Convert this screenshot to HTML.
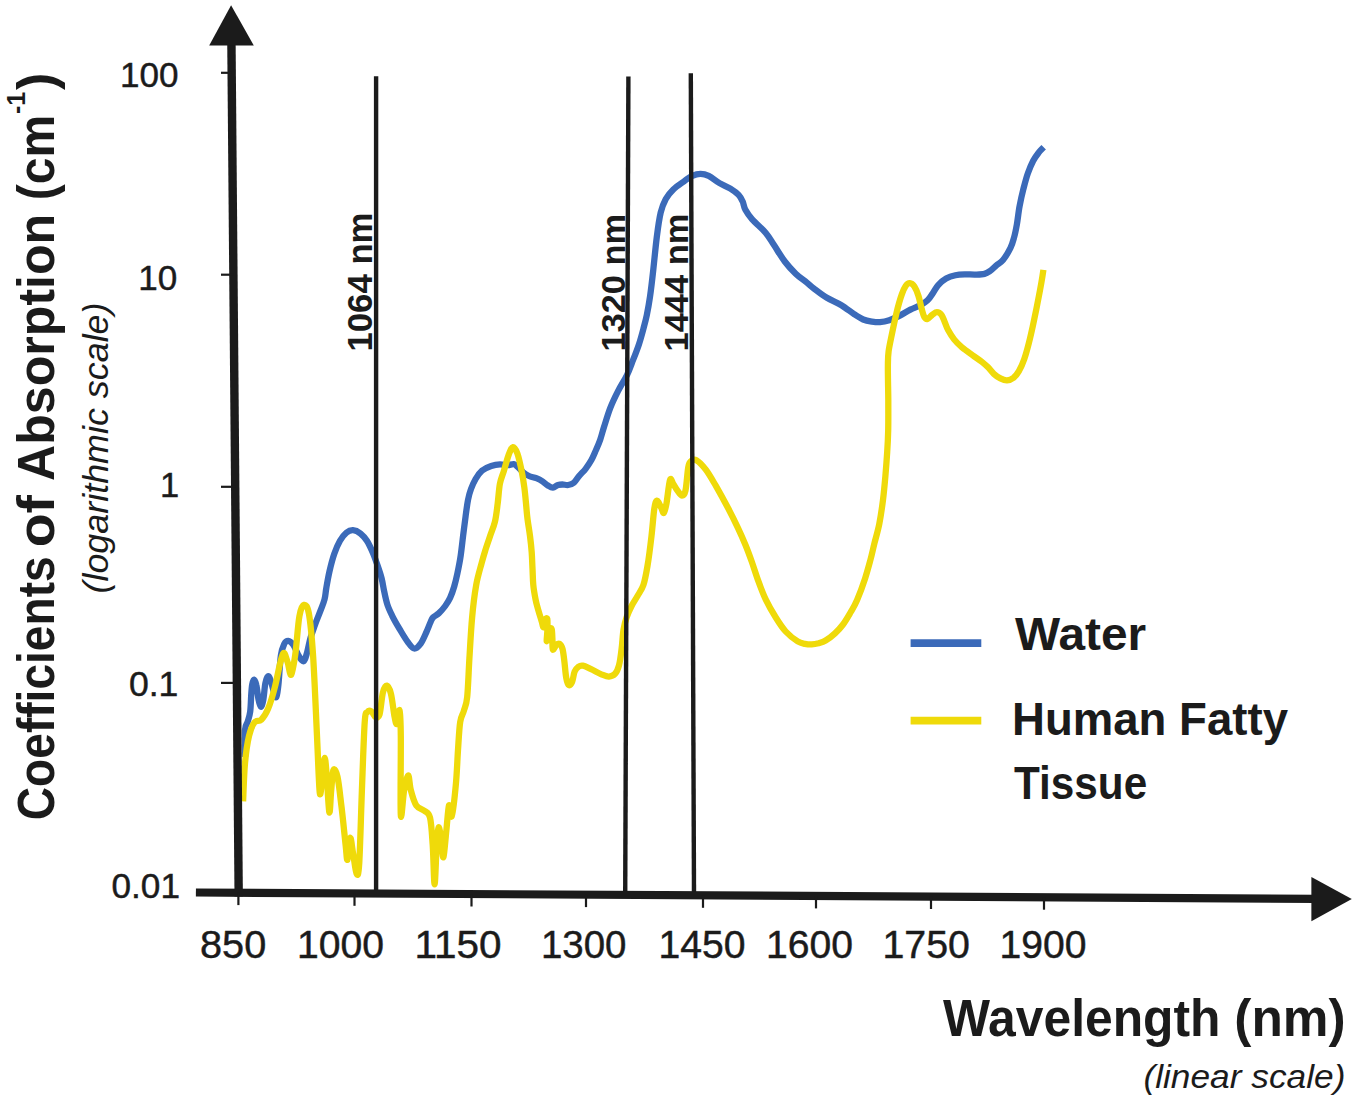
<!DOCTYPE html>
<html lang="en"><head><meta charset="utf-8"><title>Coefficients of Absorption vs Wavelength</title>
<style>html,body{margin:0;padding:0;background:#fff}body{width:1361px;height:1103px;overflow:hidden}svg{display:block}</style>
</head><body>
<svg width="1361" height="1103" viewBox="0 0 1361 1103" font-family="'Liberation Sans', sans-serif" fill="#1b1b1b">
<rect width="1361" height="1103" fill="#fff"/>
<path d="M245.1 757.0 C245.1 752.4 244.6 735.4 245.1 729.5 C245.6 723.6 247.0 724.4 247.8 721.4 C248.7 718.4 249.6 716.0 250.2 711.6 C250.8 707.2 250.9 699.8 251.2 695.3 C251.5 690.8 251.7 687.1 252.2 684.5 C252.7 681.9 253.3 679.5 254.0 679.6 C254.7 679.7 255.6 681.7 256.3 685.0 C257.1 688.3 257.8 695.9 258.5 699.5 C259.2 703.1 260.0 706.6 260.8 706.8 C261.6 707.0 262.4 704.5 263.2 700.5 C264.0 696.5 264.6 687.0 265.4 683.0 C266.2 679.0 267.2 676.3 268.2 676.2 C269.2 676.1 270.2 679.4 271.2 682.2 C272.2 685.0 273.2 690.5 274.1 693.0 C275.0 695.5 275.7 698.5 276.4 697.0 C277.1 695.5 277.8 690.9 278.5 684.0 C279.2 677.1 279.9 662.2 280.9 655.5 C281.8 648.8 283.0 646.5 284.2 644.0 C285.4 641.5 286.8 640.7 288.3 640.8 C289.8 640.9 291.4 642.2 293.2 644.7 C295.0 647.2 297.1 653.4 298.9 656.1 C300.7 658.9 302.4 661.9 303.8 661.2 C305.2 660.5 306.1 655.9 307.2 652.0 C308.3 648.1 309.2 642.4 310.5 638.0 C311.8 633.6 313.1 630.1 314.7 625.6 C316.3 621.1 318.8 615.2 320.4 610.9 C322.0 606.5 323.5 603.3 324.5 599.5 C325.5 595.7 325.5 592.7 326.3 588.1 C327.1 583.5 328.1 577.5 329.4 571.8 C330.7 566.1 332.5 559.0 334.3 553.8 C336.1 548.6 338.0 544.3 340.0 540.8 C342.0 537.3 344.3 534.4 346.5 532.6 C348.7 530.8 350.7 530.1 353.0 530.2 C355.3 530.3 358.1 531.6 360.4 533.4 C362.7 535.2 364.9 537.7 366.9 540.8 C368.9 543.9 370.8 548.1 372.6 552.2 C374.4 556.3 376.0 560.9 377.5 565.3 C379.0 569.6 380.5 573.9 381.6 578.3 C382.7 582.6 383.2 587.0 384.2 591.4 C385.1 595.8 386.0 600.3 387.3 604.4 C388.6 608.5 390.2 611.7 392.2 615.8 C394.2 619.9 396.9 624.5 399.5 628.9 C402.1 633.2 405.2 638.6 407.7 641.9 C410.1 645.2 412.0 648.2 414.2 648.5 C416.4 648.8 418.7 646.3 420.7 643.6 C422.7 640.9 424.8 635.7 426.4 632.1 C428.0 628.5 429.4 624.7 430.5 622.3 C431.6 619.9 431.6 619.0 433.0 617.5 C434.4 616.0 436.7 615.3 438.7 613.4 C440.7 611.5 443.3 608.6 445.2 606.0 C447.1 603.4 448.6 601.1 450.1 597.9 C451.6 594.6 453.0 590.6 454.2 586.5 C455.4 582.4 456.3 578.6 457.4 573.4 C458.5 568.2 459.8 561.8 460.7 555.5 C461.6 549.2 462.3 542.4 463.1 535.9 C463.9 529.4 464.8 522.3 465.6 516.3 C466.4 510.3 467.1 504.6 468.0 500.0 C468.9 495.4 469.7 492.5 471.0 489.0 C472.3 485.5 473.8 482.1 475.6 479.0 C477.4 475.9 479.4 472.8 482.0 470.6 C484.6 468.4 488.2 467.0 491.2 466.0 C494.2 465.0 497.3 464.5 500.0 464.4 C502.7 464.3 505.0 465.2 507.3 465.2 C509.6 465.1 512.1 463.9 513.8 464.1 C515.5 464.3 515.8 465.2 517.4 466.6 C519.0 468.0 521.3 470.8 523.2 472.4 C525.1 474.0 526.8 475.0 529.0 476.0 C531.2 477.0 534.1 477.3 536.3 478.2 C538.5 479.1 540.2 479.9 542.1 481.1 C544.0 482.3 546.1 484.4 547.9 485.5 C549.7 486.6 551.2 487.7 552.9 487.6 C554.6 487.5 556.4 485.5 558.0 485.0 C559.6 484.5 560.7 484.5 562.4 484.5 C564.1 484.5 566.3 485.3 568.2 485.0 C570.1 484.7 572.2 484.1 574.0 482.6 C575.8 481.1 577.2 478.3 579.1 476.0 C581.0 473.7 583.6 471.4 585.6 468.8 C587.6 466.2 589.7 463.2 591.4 460.1 C593.1 457.0 594.5 453.4 596.0 450.0 C597.5 446.6 598.9 443.5 600.2 439.7 C601.5 435.9 602.3 432.3 604.0 427.0 C605.7 421.7 608.0 413.8 610.3 407.9 C612.6 402.0 615.1 396.9 617.9 391.4 C620.7 385.9 624.5 380.2 627.1 374.9 C629.7 369.6 631.2 364.8 633.2 359.7 C635.2 354.6 637.2 349.5 638.9 344.4 C640.6 339.3 642.0 334.1 643.3 329.2 C644.6 324.3 645.7 320.6 646.8 315.2 C647.9 309.8 648.9 304.4 650.0 296.8 C651.1 289.2 652.2 279.6 653.3 269.6 C654.4 259.6 655.6 246.5 656.8 237.0 C658.0 227.5 659.2 218.8 660.7 212.5 C662.2 206.2 663.7 202.8 665.8 198.9 C667.9 195.1 670.2 192.4 673.3 189.4 C676.4 186.4 681.0 183.5 684.2 181.2 C687.4 178.9 689.6 177.0 692.3 175.8 C695.0 174.6 697.8 173.9 700.5 173.9 C703.2 173.9 705.5 174.3 708.7 175.8 C711.9 177.3 715.9 181.0 719.5 183.1 C723.1 185.2 727.2 186.6 730.4 188.6 C733.6 190.6 736.5 192.6 738.6 194.8 C740.7 197.0 741.6 199.1 742.7 201.6 C743.8 204.1 743.8 206.9 745.4 209.8 C747.0 212.8 748.8 215.5 752.2 219.3 C755.6 223.2 762.2 228.6 765.8 232.9 C769.4 237.2 770.8 240.3 774.0 245.1 C777.2 249.9 781.2 256.7 784.8 261.5 C788.4 266.3 792.1 270.2 795.7 273.7 C799.3 277.2 803.5 279.9 806.6 282.4 C809.7 284.9 810.8 286.1 814.2 288.7 C817.6 291.3 822.4 295.1 826.9 297.8 C831.4 300.6 836.9 302.5 841.4 305.2 C845.9 307.9 850.5 311.7 854.1 314.1 C857.7 316.5 860.2 318.2 863.2 319.5 C866.2 320.8 869.2 321.2 872.0 321.6 C874.8 322.0 877.1 322.3 880.0 322.1 C882.9 321.9 886.0 321.3 889.3 320.2 C892.6 319.1 896.3 317.4 899.8 315.6 C903.3 313.8 907.1 311.3 910.4 309.6 C913.7 307.9 916.8 307.2 919.7 305.6 C922.6 304.1 925.4 302.4 927.6 300.3 C929.8 298.2 931.1 295.6 932.9 293.1 C934.7 290.6 936.0 287.5 938.2 285.1 C940.4 282.7 943.2 280.1 946.1 278.5 C949.0 276.9 952.3 275.9 955.4 275.2 C958.5 274.5 961.4 274.4 964.7 274.3 C968.0 274.2 971.9 274.7 975.2 274.6 C978.5 274.5 982.1 274.5 984.5 273.9 C986.9 273.3 987.8 272.6 989.8 271.2 C991.8 269.8 994.2 267.2 996.4 265.3 C998.6 263.4 1000.6 262.9 1003.0 260.0 C1005.4 257.1 1008.6 251.7 1010.5 247.9 C1012.4 244.1 1013.1 240.9 1014.2 237.0 C1015.3 233.1 1016.0 229.4 1016.9 224.3 C1017.8 219.2 1018.5 211.9 1019.6 206.2 C1020.7 200.4 1021.8 195.2 1023.2 189.8 C1024.6 184.4 1026.1 178.3 1027.8 173.5 C1029.5 168.7 1031.4 164.3 1033.2 160.8 C1035.0 157.3 1036.8 155.0 1038.6 152.7 C1040.3 150.4 1042.8 148.1 1043.7 147.2" fill="none" stroke="#3b6ab9" stroke-width="6.3" stroke-linejoin="round" stroke-linecap="butt"/>
<path d="M243.1 801.3 C243.4 794.9 244.0 774.1 245.0 763.2 C246.0 752.3 247.4 742.8 249.0 736.0 C250.6 729.2 252.4 725.1 254.5 722.4 C256.6 719.7 259.0 722.0 261.3 719.7 C263.6 717.4 265.8 714.2 268.1 708.8 C270.4 703.3 272.9 694.7 274.9 687.0 C276.9 679.3 278.8 668.3 280.3 662.6 C281.8 656.9 282.7 653.0 283.9 653.0 C285.1 653.0 286.5 659.0 287.7 662.6 C288.9 666.2 289.9 676.2 291.2 674.8 C292.5 673.4 293.9 664.1 295.3 654.4 C296.7 644.6 297.9 624.5 299.4 616.3 C300.8 608.0 302.4 605.3 304.0 604.9 C305.6 604.5 307.4 605.4 308.9 613.6 C310.4 621.9 311.6 634.0 313.0 654.4 C314.4 674.8 315.9 712.9 317.0 736.0 C318.1 759.1 318.9 786.8 319.8 793.1 C320.7 799.5 321.7 780.0 322.5 774.1 C323.3 768.2 324.0 757.8 324.7 757.8 C325.4 757.8 325.8 765.0 326.6 774.1 C327.4 783.2 328.5 809.5 329.3 812.2 C330.1 814.9 330.5 797.4 331.2 790.4 C331.9 783.4 332.3 772.3 333.4 770.0 C334.4 767.7 336.1 770.7 337.5 776.8 C338.9 782.9 340.1 795.4 341.5 806.7 C342.9 818.0 344.6 835.9 345.6 844.8 C346.6 853.6 346.7 860.9 347.5 859.8 C348.3 858.7 349.3 839.1 350.2 838.0 C351.1 836.9 351.9 847.1 353.0 853.0 C354.1 858.9 355.5 871.6 356.5 873.4 C357.5 875.2 358.3 877.7 359.2 863.9 C360.1 850.1 361.0 814.0 361.9 790.4 C362.8 766.8 363.8 735.4 364.7 722.4 C365.6 709.4 366.3 713.9 367.4 712.1 C368.5 710.3 370.1 710.7 371.5 711.5 C372.9 712.3 374.1 716.5 375.5 717.0 C376.9 717.5 378.4 718.4 379.6 714.3 C380.8 710.2 381.7 697.3 382.9 692.5 C384.1 687.7 385.6 685.5 387.0 685.7 C388.4 685.9 389.7 688.7 391.0 693.9 C392.3 699.1 393.6 712.0 394.6 717.0 C395.6 722.0 396.0 724.9 396.8 723.8 C397.6 722.7 398.8 708.2 399.5 710.2 C400.2 712.2 400.6 718.5 400.8 736.0 C401.0 753.5 400.2 805.8 400.8 814.9 C401.4 824.0 402.9 797.0 404.1 790.4 C405.3 783.8 407.1 775.5 408.2 775.5 C409.3 775.5 409.5 785.4 410.9 790.4 C412.2 795.4 414.0 802.0 416.3 805.4 C418.6 808.8 422.2 808.8 424.5 810.8 C426.8 812.8 428.6 811.9 430.0 817.6 C431.4 823.3 431.9 833.7 432.7 844.8 C433.5 855.9 433.9 884.3 434.6 884.3 C435.3 884.3 436.0 854.3 436.7 844.8 C437.4 835.3 438.1 827.1 438.9 827.1 C439.7 827.1 440.8 839.8 441.6 844.8 C442.4 849.8 442.7 859.3 443.5 857.0 C444.3 854.7 445.4 839.8 446.3 831.2 C447.2 822.6 448.1 807.9 449.0 805.4 C449.9 802.9 450.6 819.7 451.7 816.3 C452.8 812.9 454.8 796.0 455.8 785.0 C456.9 774.0 457.3 760.5 458.0 750.0 C458.7 739.5 459.2 728.5 460.2 722.0 C461.2 715.5 462.6 715.2 463.8 711.0 C465.0 706.8 466.3 705.8 467.2 697.0 C468.1 688.2 468.6 671.6 469.4 658.4 C470.2 645.2 471.0 629.8 472.1 617.6 C473.2 605.4 474.6 594.1 476.2 585.0 C477.8 575.9 480.1 568.9 481.6 563.2 C483.1 557.5 483.8 555.2 485.2 550.7 C486.6 546.2 488.5 540.9 490.1 536.0 C491.7 531.1 493.7 526.8 495.0 521.4 C496.3 516.0 496.9 509.7 497.7 503.4 C498.5 497.1 498.9 489.2 499.9 483.8 C500.9 478.4 502.4 475.7 503.9 470.8 C505.4 465.9 507.3 458.4 508.8 454.5 C510.3 450.6 511.5 447.3 512.9 447.1 C514.3 446.9 515.9 449.3 517.4 453.5 C518.9 457.7 520.8 466.8 521.9 472.4 C523.0 478.0 523.6 481.9 524.3 487.1 C525.0 492.3 525.5 498.0 526.0 503.4 C526.5 508.8 526.9 514.3 527.6 519.7 C528.3 525.1 529.3 530.6 530.0 536.0 C530.7 541.4 531.3 546.8 531.7 552.3 C532.1 557.8 532.2 563.2 532.5 568.7 C532.8 574.2 532.8 579.8 533.3 585.0 C533.8 590.2 534.8 595.5 535.6 599.7 C536.4 603.9 537.3 606.7 538.3 610.2 C539.3 613.8 540.7 618.1 541.6 621.0 C542.5 623.9 543.0 627.5 543.5 627.3 C544.0 627.1 544.3 621.4 544.9 620.0 C545.5 618.6 546.9 617.3 547.3 619.0 C547.7 620.7 547.5 626.3 547.4 630.0 C547.3 633.7 546.4 641.4 546.8 641.3 C547.2 641.2 548.8 631.5 549.6 629.5 C550.4 627.5 551.2 627.7 551.7 629.2 C552.2 630.7 552.2 635.3 552.4 638.7 C552.6 642.1 552.2 648.4 552.8 649.5 C553.4 650.6 555.1 646.1 556.2 645.1 C557.3 644.1 558.4 643.2 559.4 643.8 C560.4 644.4 561.7 645.9 562.5 648.9 C563.3 651.9 563.8 656.7 564.4 661.6 C565.0 666.5 565.5 674.2 566.3 678.1 C567.0 682.0 567.9 684.5 568.9 685.1 C569.9 685.7 571.1 684.1 572.1 681.9 C573.1 679.7 573.6 674.2 574.6 671.7 C575.6 669.2 577.0 667.7 578.4 666.7 C579.8 665.7 580.8 665.3 582.9 665.7 C585.0 666.1 588.0 667.8 591.1 669.2 C594.2 670.6 598.3 673.1 601.3 674.3 C604.3 675.5 606.6 676.7 608.9 676.6 C611.2 676.5 613.5 675.6 615.2 673.7 C616.9 671.8 617.9 669.5 619.0 665.4 C620.1 661.3 620.9 654.8 621.6 648.9 C622.4 643.0 622.6 635.1 623.5 629.8 C624.4 624.5 625.3 621.1 626.7 617.1 C628.1 613.1 629.9 609.2 631.7 605.7 C633.5 602.2 635.5 599.5 637.5 596.0 C639.5 592.5 641.7 590.0 643.4 585.0 C645.1 580.0 646.1 574.1 647.5 565.9 C648.9 557.7 650.4 545.5 651.5 536.0 C652.6 526.5 653.4 514.7 654.3 508.8 C655.2 502.9 655.9 500.9 657.0 500.7 C658.1 500.5 660.0 505.5 661.1 507.5 C662.2 509.5 662.9 513.6 663.8 512.9 C664.7 512.2 665.5 508.9 666.5 503.4 C667.5 497.9 668.9 483.2 670.0 480.0 C671.1 476.8 672.1 482.2 673.3 484.0 C674.5 485.8 675.9 488.6 677.4 490.5 C678.9 492.4 680.6 495.5 682.0 495.5 C683.4 495.5 684.5 495.2 685.5 490.5 C686.5 485.8 687.4 471.9 688.3 467.0 C689.2 462.1 689.6 462.3 691.0 461.2 C692.4 460.1 693.9 458.8 696.4 460.2 C698.9 461.6 702.8 465.6 706.0 469.9 C709.2 474.2 712.2 479.6 715.9 485.9 C719.5 492.2 724.2 500.8 727.9 507.8 C731.6 514.8 734.9 521.5 737.9 527.8 C740.9 534.1 743.5 540.1 745.8 545.7 C748.1 551.4 749.8 556.1 751.8 561.7 C753.8 567.4 755.5 573.3 757.8 579.6 C760.1 585.9 762.8 593.3 765.8 599.6 C768.8 605.9 772.5 612.2 775.8 617.5 C779.1 622.8 782.1 627.5 785.7 631.5 C789.4 635.5 794.5 639.4 797.7 641.4 C800.9 643.4 802.7 643.3 805.0 643.8 C807.3 644.3 809.5 644.5 811.7 644.4 C814.0 644.3 816.2 643.9 818.5 643.3 C820.8 642.6 822.9 642.1 825.6 640.5 C828.4 638.9 832.1 636.1 835.0 633.4 C837.9 630.7 840.4 628.0 843.0 624.5 C845.6 621.0 848.1 616.6 850.5 612.5 C852.9 608.4 854.7 605.7 857.1 600.0 C859.5 594.3 862.9 585.1 865.1 578.4 C867.3 571.7 868.8 565.9 870.4 560.0 C872.0 554.1 873.0 549.0 874.5 543.0 C876.0 537.0 877.9 531.0 879.3 523.8 C880.7 516.6 882.0 507.8 883.0 499.8 C884.0 491.8 884.7 483.9 885.4 475.9 C886.1 467.9 886.7 459.6 887.2 452.0 C887.7 444.4 888.0 438.7 888.2 430.0 C888.4 421.3 888.3 410.7 888.3 400.0 C888.2 389.3 887.8 373.9 887.9 365.8 C888.0 357.7 887.9 356.6 888.6 351.3 C889.3 346.0 890.6 340.5 891.9 334.1 C893.2 327.7 894.9 319.5 896.5 312.9 C898.1 306.3 900.2 298.9 901.8 294.4 C903.3 289.9 904.5 287.7 905.8 285.8 C907.1 283.9 908.4 283.0 909.8 283.1 C911.2 283.2 913.0 284.4 914.4 286.5 C915.8 288.6 917.2 292.0 918.4 295.7 C919.6 299.4 920.7 305.4 921.7 308.9 C922.7 312.4 923.3 315.2 924.3 316.9 C925.3 318.6 926.3 319.2 927.6 318.9 C928.9 318.6 930.7 316.0 932.2 314.9 C933.8 313.8 935.4 312.2 936.9 312.2 C938.4 312.2 940.2 313.2 941.5 314.9 C942.8 316.6 943.7 319.7 944.8 322.2 C945.9 324.7 946.5 327.2 948.1 330.1 C949.7 333.0 951.8 336.5 954.1 339.4 C956.4 342.3 958.9 344.7 962.0 347.3 C965.1 349.9 969.3 352.8 972.6 355.2 C975.9 357.6 979.4 359.9 981.9 361.9 C984.4 363.9 985.8 365.1 987.8 367.1 C989.8 369.1 991.7 371.9 993.8 373.8 C995.9 375.7 998.2 377.3 1000.4 378.4 C1002.6 379.5 1004.8 380.5 1007.0 380.4 C1009.2 380.3 1011.6 379.2 1013.6 377.7 C1015.6 376.1 1017.1 374.2 1018.9 371.1 C1020.7 368.0 1022.6 363.8 1024.2 359.2 C1025.9 354.6 1027.4 348.8 1028.8 343.3 C1030.2 337.8 1031.6 331.6 1032.8 326.1 C1034.0 320.6 1035.1 315.2 1036.1 310.3 C1037.1 305.4 1037.8 301.6 1038.7 297.0 C1039.6 292.4 1040.6 287.0 1041.4 282.5 C1042.2 278.0 1043.1 272.0 1043.4 269.9" fill="none" stroke="#efda0a" stroke-width="6.3" stroke-linejoin="round" stroke-linecap="butt"/>
<line x1="376.1" y1="76.2" x2="376.1" y2="892.0" stroke="#1b1b1b" stroke-width="4.4"/>
<line x1="628.4" y1="76.4" x2="625.2" y2="894.0" stroke="#1b1b1b" stroke-width="4.4"/>
<line x1="690.8" y1="73.3" x2="694.0" y2="895.0" stroke="#1b1b1b" stroke-width="4.4"/>
<line x1="231.4" y1="40.0" x2="238.7" y2="896.5" stroke="#1b1b1b" stroke-width="8.4"/>
<polygon points="231.1,5.3 209.2,45.6 253.8,45.6" fill="#1b1b1b"/>
<line x1="195.9" y1="892.5" x2="1315.0" y2="898.8" stroke="#1b1b1b" stroke-width="8.2"/>
<polygon points="1351.8,899.1 1311.4,876.9 1311.4,921.2" fill="#1b1b1b"/>
<line x1="221.0" y1="72.8" x2="231.7" y2="72.8" stroke="#1b1b1b" stroke-width="2.2"/>
<line x1="221.0" y1="274.7" x2="233.4" y2="274.7" stroke="#1b1b1b" stroke-width="2.2"/>
<line x1="221.0" y1="486.8" x2="235.2" y2="486.8" stroke="#1b1b1b" stroke-width="2.2"/>
<line x1="221.0" y1="682.9" x2="236.9" y2="682.9" stroke="#1b1b1b" stroke-width="2.2"/>
<line x1="238.4" y1="892.7" x2="238.4" y2="905.1" stroke="#1b1b1b" stroke-width="2.2"/>
<line x1="354.5" y1="893.4" x2="354.5" y2="905.8" stroke="#1b1b1b" stroke-width="2.2"/>
<line x1="471.5" y1="894.1" x2="471.5" y2="906.5" stroke="#1b1b1b" stroke-width="2.2"/>
<line x1="586.0" y1="894.7" x2="586.0" y2="907.1" stroke="#1b1b1b" stroke-width="2.2"/>
<line x1="703.0" y1="895.4" x2="703.0" y2="907.8" stroke="#1b1b1b" stroke-width="2.2"/>
<line x1="816.0" y1="896.0" x2="816.0" y2="908.4" stroke="#1b1b1b" stroke-width="2.2"/>
<line x1="931.0" y1="896.6" x2="931.0" y2="909.0" stroke="#1b1b1b" stroke-width="2.2"/>
<line x1="1044.0" y1="897.3" x2="1044.0" y2="909.7" stroke="#1b1b1b" stroke-width="2.2"/>
<line x1="910.6" y1="643.1" x2="981.3" y2="643.1" stroke="#3b6ab9" stroke-width="7.7"/>
<line x1="910.6" y1="720.6" x2="981.3" y2="720.6" stroke="#efda0a" stroke-width="7.7"/>
<text x="178.6" y="87.1" font-size="34.5" text-anchor="end" textLength="58.5" lengthAdjust="spacingAndGlyphs" stroke="#1b1b1b" stroke-width="0.45">100</text>
<text x="177.2" y="289.5" font-size="34.5" text-anchor="end" textLength="39.0" lengthAdjust="spacingAndGlyphs" stroke="#1b1b1b" stroke-width="0.45">10</text>
<text x="179.2" y="497.4" font-size="34.5" text-anchor="end" stroke="#1b1b1b" stroke-width="0.45">1</text>
<text x="178.4" y="695.6" font-size="34.5" text-anchor="end" textLength="49.5" lengthAdjust="spacingAndGlyphs" stroke="#1b1b1b" stroke-width="0.45">0.1</text>
<text x="180.0" y="897.5" font-size="34.5" text-anchor="end" textLength="68.5" lengthAdjust="spacingAndGlyphs" stroke="#1b1b1b" stroke-width="0.45">0.01</text>
<text x="200.0" y="957.9" font-size="38.6" text-anchor="start" textLength="66.2" lengthAdjust="spacingAndGlyphs" stroke="#1b1b1b" stroke-width="0.45">850</text>
<text x="297.0" y="957.9" font-size="38.6" text-anchor="start" textLength="87.0" lengthAdjust="spacingAndGlyphs" stroke="#1b1b1b" stroke-width="0.45">1000</text>
<text x="414.5" y="957.9" font-size="38.6" text-anchor="start" textLength="87.0" lengthAdjust="spacingAndGlyphs" stroke="#1b1b1b" stroke-width="0.45">1150</text>
<text x="541.0" y="957.9" font-size="38.6" text-anchor="start" textLength="85.5" lengthAdjust="spacingAndGlyphs" stroke="#1b1b1b" stroke-width="0.45">1300</text>
<text x="658.5" y="957.9" font-size="38.6" text-anchor="start" textLength="87.0" lengthAdjust="spacingAndGlyphs" stroke="#1b1b1b" stroke-width="0.45">1450</text>
<text x="766.0" y="957.9" font-size="38.6" text-anchor="start" textLength="87.0" lengthAdjust="spacingAndGlyphs" stroke="#1b1b1b" stroke-width="0.45">1600</text>
<text x="882.5" y="957.9" font-size="38.6" text-anchor="start" textLength="87.5" lengthAdjust="spacingAndGlyphs" stroke="#1b1b1b" stroke-width="0.45">1750</text>
<text x="999.5" y="957.9" font-size="38.6" text-anchor="start" textLength="87.0" lengthAdjust="spacingAndGlyphs" stroke="#1b1b1b" stroke-width="0.45">1900</text>
<text x="372.3" y="351.5" font-size="35.0" text-anchor="start" font-weight="bold" textLength="139.0" lengthAdjust="spacingAndGlyphs" transform="rotate(-90 372.3 351.5)">1064 nm</text>
<text x="624.5" y="351.5" font-size="34.0" text-anchor="start" font-weight="bold" textLength="137.5" lengthAdjust="spacingAndGlyphs" transform="rotate(-90 624.5 351.5)">1320 nm</text>
<text x="687.8" y="351.5" font-size="33.5" text-anchor="start" font-weight="bold" textLength="138.0" lengthAdjust="spacingAndGlyphs" transform="rotate(-90 687.8 351.5)">1444 nm</text>
<text x="1015.0" y="649.5" font-size="46.0" text-anchor="start" font-weight="bold" textLength="131.2" lengthAdjust="spacingAndGlyphs">Water</text>
<text x="1012.0" y="735.0" font-size="46.0" text-anchor="start" font-weight="bold" textLength="276.0" lengthAdjust="spacingAndGlyphs">Human Fatty</text>
<text x="1014.0" y="799.0" font-size="46.0" text-anchor="start" font-weight="bold" textLength="133.2" lengthAdjust="spacingAndGlyphs">Tissue</text>
<text x="942.9" y="1036.0" font-size="51.0" text-anchor="start" font-weight="bold" textLength="277.6" lengthAdjust="spacingAndGlyphs">Wavelength</text>
<text x="1234.3" y="1036.0" font-size="51.0" text-anchor="start" font-weight="bold" textLength="111.3" lengthAdjust="spacingAndGlyphs">(nm)</text>
<text x="1143.4" y="1088.0" font-size="34.0" text-anchor="start" font-style="italic" textLength="202.0" lengthAdjust="spacingAndGlyphs">(linear scale)</text>
<text x="53.7" y="820.2" font-size="52.0" text-anchor="start" font-weight="bold" textLength="263.9" lengthAdjust="spacingAndGlyphs" transform="rotate(-90 53.7 820.2)">Coefficients</text>
<text x="53.7" y="547.2" font-size="52.0" text-anchor="start" font-weight="bold" textLength="52.3" lengthAdjust="spacingAndGlyphs" transform="rotate(-90 53.7 547.2)">of</text>
<text x="53.7" y="480.9" font-size="52.0" text-anchor="start" font-weight="bold" textLength="267.1" lengthAdjust="spacingAndGlyphs" transform="rotate(-90 53.7 480.9)">Absorption</text>
<text x="53.7" y="200.2" font-size="52.0" text-anchor="start" font-weight="bold" textLength="85.5" lengthAdjust="spacingAndGlyphs" transform="rotate(-90 53.7 200.2)">(cm</text>
<text x="53.7" y="90.0" font-size="52.0" text-anchor="start" font-weight="bold" transform="rotate(-90 53.7 90.0)">)</text>
<text x="25.4" y="114.0" font-size="25.0" text-anchor="start" font-weight="bold" transform="rotate(-90 25.4 114.0)">-1</text>
<text x="107.5" y="593.5" font-size="35.0" text-anchor="start" font-style="italic" textLength="291.0" lengthAdjust="spacingAndGlyphs" transform="rotate(-90 107.5 593.5)">(logarithmic scale)</text>
</svg>
</body></html>
